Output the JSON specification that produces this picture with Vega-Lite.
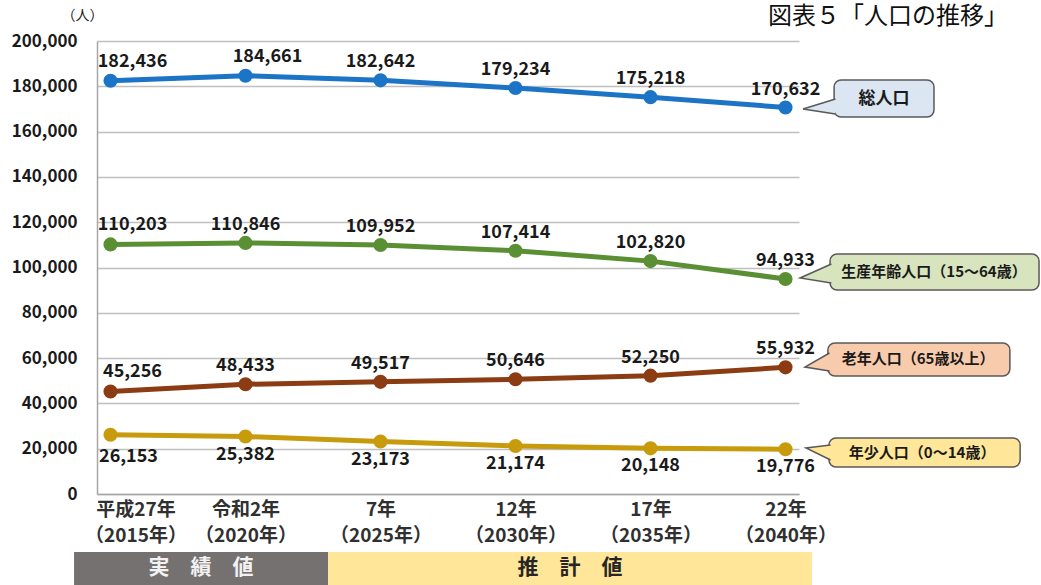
{
  "$schema": "https://vega.github.io/schema/vega-lite/v6.json",
  "width": 702,
  "height": 453,
  "autosize": {"type": "none"},
  "padding": {"left": 97, "top": 41, "right": 242, "bottom": 91},
  "background": "white",
  "title": {"text": "図表５「人口の推移」", "anchor": "start", "frame": "group", "dx": 671, "offset": 0, "dy": 21, "fontSize": 24, "fontWeight": "normal", "font": "Noto Sans CJK JP", "color": "#111"},
  "config": {
    "view": {"stroke": null},
    "font": "Noto Sans CJK JP"
  },
  "datasets": {
    "pop": [
      {"year": 2015, "series": "総人口", "value": 182436},
      {"year": 2020, "series": "総人口", "value": 184661},
      {"year": 2025, "series": "総人口", "value": 182642},
      {"year": 2030, "series": "総人口", "value": 179234},
      {"year": 2035, "series": "総人口", "value": 175218},
      {"year": 2040, "series": "総人口", "value": 170632},
      {"year": 2015, "series": "生産年齢人口", "value": 110203},
      {"year": 2020, "series": "生産年齢人口", "value": 110846},
      {"year": 2025, "series": "生産年齢人口", "value": 109952},
      {"year": 2030, "series": "生産年齢人口", "value": 107414},
      {"year": 2035, "series": "生産年齢人口", "value": 102820},
      {"year": 2040, "series": "生産年齢人口", "value": 94933},
      {"year": 2015, "series": "老年人口", "value": 45256},
      {"year": 2020, "series": "老年人口", "value": 48433},
      {"year": 2025, "series": "老年人口", "value": 49517},
      {"year": 2030, "series": "老年人口", "value": 50646},
      {"year": 2035, "series": "老年人口", "value": 52250},
      {"year": 2040, "series": "老年人口", "value": 55932},
      {"year": 2015, "series": "年少人口", "value": 26153},
      {"year": 2020, "series": "年少人口", "value": 25382},
      {"year": 2025, "series": "年少人口", "value": 23173},
      {"year": 2030, "series": "年少人口", "value": 21174},
      {"year": 2035, "series": "年少人口", "value": 20148},
      {"year": 2040, "series": "年少人口", "value": 19776}
    ],
    "boxes": [
      {"series": "総人口", "label": "総人口", "x0": 2041.80, "x1": 2045.50, "y0": 166446, "y1": 182781, "tx": 2043.65, "ty": 174613},
      {"series": "生産年齢人口", "label": "生産年齢人口（15～64歳）", "x0": 2041.65, "x1": 2049.39, "y0": 90066, "y1": 105960, "tx": 2045.50, "ty": 98013},
      {"series": "老年人口", "label": "老年人口（65歳以上）", "x0": 2041.57, "x1": 2048.31, "y0": 52097, "y1": 66667, "tx": 2044.91, "ty": 59382},
      {"series": "年少人口", "label": "年少人口（0～14歳）", "x0": 2041.61, "x1": 2048.69, "y0": 11921, "y1": 24724, "tx": 2045.06, "ty": 18322}
    ],
    "tails": [
      {"series": "総人口", "k": 1, "x": 2041.85, "y": 174393},
      {"series": "総人口", "k": 2, "x": 2040.65, "y": 169978},
      {"series": "総人口", "k": 3, "x": 2041.85, "y": 167770},
      {"series": "生産年齢人口", "k": 1, "x": 2041.70, "y": 101545},
      {"series": "生産年齢人口", "k": 2, "x": 2040.54, "y": 95364},
      {"series": "生産年齢人口", "k": 3, "x": 2041.70, "y": 93157},
      {"series": "老年人口", "k": 1, "x": 2041.63, "y": 62252},
      {"series": "老年人口", "k": 2, "x": 2040.72, "y": 56071},
      {"series": "老年人口", "k": 3, "x": 2041.63, "y": 54305},
      {"series": "年少人口", "k": 1, "x": 2041.67, "y": 21634},
      {"series": "年少人口", "k": 2, "x": 2040.76, "y": 20309},
      {"series": "年少人口", "k": 3, "x": 2041.67, "y": 15011}
    ],
    "bands": [
      {"band": "実　績　値", "x0": 2013.65, "x1": 2023.06, "mid": 2018.35},
      {"band": "推　計　値", "x0": 2023.06, "x1": 2040.98, "mid": 2032.02}
    ]
  },
  "layer": [
    {
      "data": {"name": "bands"},
      "mark": {"type": "rect"},
      "encoding": {
        "x": {"field": "x0", "type": "quantitative"},
        "x2": {"field": "x1"},
        "y": {"datum": -25607, "type": "quantitative"},
        "y2": {"datum": -41000},
        "fill": {"condition": {"test": "datum.band == '実　績　値'", "value": "#767171"}, "value": "#ffe699"}
      }
    },
    {
      "data": {"name": "bands"},
      "mark": {"type": "text", "fontSize": 21, "fontWeight": "bold", "baseline": "middle", "align": "center"},
      "encoding": {
        "x": {"field": "mid", "type": "quantitative"},
        "y": {"datum": -32671, "type": "quantitative"},
        "text": {"field": "band"},
        "color": {"condition": {"test": "datum.band == '実　績　値'", "value": "#f2f2f2"}, "value": "#262626"}
      }
    },
    {
      "data": {"name": "pop"},
      "mark": {"type": "line", "strokeWidth": 5},
      "encoding": {
        "x": {
          "field": "year", "type": "quantitative",
          "scale": {"domain": [2014.5, 2040.5], "nice": false, "zero": false},
          "axis": {
            "title": null, "values": [2015, 2020, 2025, 2030, 2035, 2040],
            "labelExpr": "[datum.value == 2015 ? '平成27年' : datum.value == 2020 ? '令和2年' : (datum.value - 2018) + '年', '（' + datum.value + '年）']",
            "grid": false, "ticks": false, "domain": true, "domainColor": "#a6a6a6", "domainWidth": 1.5,
            "labelFontSize": 19, "labelFontWeight": "bold", "labelColor": "#303030", "labelPadding": 6, "labelLineHeight": 26,
            "labelOffset": {"condition": {"test": "datum.value == 2015", "value": 25}, "value": 0},
            "labelBaseline": "top", "labelOverlap": false, "labelFlush": false, "labelFont": "Noto Sans CJK JP"
          }
        },
        "y": {
          "field": "value", "type": "quantitative",
          "scale": {"domain": [0, 200000], "nice": false},
          "axis": {
            "title": "（人）", "titleAngle": 0, "titleX": -15, "titleY": -26, "titleAlign": "center", "titleBaseline": "middle",
            "titleFontSize": 14, "titleFontWeight": "normal", "titleColor": "#1a1a1a",
            "values": [0, 20000, 40000, 60000, 80000, 100000, 120000, 140000, 160000, 180000, 200000],
            "format": ",d", "labelFontSize": 17, "labelFontWeight": "bold", "labelColor": "#1a1a1a", "labelPadding": 20,
            "ticks": false, "grid": true, "gridColor": "#bfbfbf", "gridWidth": 1.5, "domain": true, "domainColor": "#a6a6a6", "domainWidth": 1.5
          }
        },
        "color": {
          "field": "series", "type": "nominal",
          "scale": {"domain": ["総人口", "生産年齢人口", "老年人口", "年少人口"], "range": ["#1c74c6", "#5a8f33", "#8c3c12", "#c89b0d"]},
          "legend": null
        }
      }
    },
    {
      "data": {"name": "pop"},
      "mark": {"type": "circle", "size": 200, "opacity": 1},
      "encoding": {
        "x": {"field": "year", "type": "quantitative"},
        "y": {"field": "value", "type": "quantitative"},
        "color": {"field": "series", "type": "nominal", "legend": null}
      }
    },
    {
      "data": {"name": "pop"},
      "transform": [{"filter": "datum.series != '年少人口' && datum.year > 2015 && !(datum.year == 2020 && datum.series == '総人口')"}],
      "mark": {"type": "text", "fontSize": 18, "fontWeight": "bold", "color": "#1a1a1a", "baseline": "middle", "dy": -18},
      "encoding": {
        "x": {"field": "year", "type": "quantitative"},
        "y": {"field": "value", "type": "quantitative"},
        "text": {"field": "value", "type": "quantitative", "format": ",d"}
      }
    },
    {
      "data": {"name": "pop"},
      "transform": [{"filter": "datum.series != '年少人口' && (datum.year == 2015 || (datum.year == 2020 && datum.series == '総人口'))"}],
      "mark": {"type": "text", "fontSize": 18, "fontWeight": "bold", "color": "#1a1a1a", "baseline": "middle", "dy": -19, "dx": 22},
      "encoding": {
        "x": {"field": "year", "type": "quantitative"},
        "y": {"field": "value", "type": "quantitative"},
        "text": {"field": "value", "type": "quantitative", "format": ",d"}
      }
    },
    {
      "data": {"name": "pop"},
      "transform": [{"filter": "datum.series == '年少人口' && datum.year > 2015"}],
      "mark": {"type": "text", "fontSize": 18, "fontWeight": "bold", "color": "#1a1a1a", "baseline": "middle", "dy": 18},
      "encoding": {
        "x": {"field": "year", "type": "quantitative"},
        "y": {"field": "value", "type": "quantitative"},
        "text": {"field": "value", "type": "quantitative", "format": ",d"}
      }
    },
    {
      "data": {"name": "pop"},
      "transform": [{"filter": "datum.series == '年少人口' && datum.year == 2015"}],
      "mark": {"type": "text", "fontSize": 18, "fontWeight": "bold", "color": "#1a1a1a", "baseline": "middle", "dy": 22, "dx": 18},
      "encoding": {
        "x": {"field": "year", "type": "quantitative"},
        "y": {"field": "value", "type": "quantitative"},
        "text": {"field": "value", "type": "quantitative", "format": ",d"}
      }
    },
    {
      "data": {"name": "boxes"},
      "mark": {"type": "rect", "stroke": "#595959", "strokeWidth": 1.5, "cornerRadius": 7},
      "encoding": {
        "x": {"field": "x0", "type": "quantitative"},
        "x2": {"field": "x1"},
        "y": {"field": "y0", "type": "quantitative"},
        "y2": {"field": "y1"},
        "fill": {
          "field": "series", "type": "nominal",
          "scale": {"domain": ["総人口", "生産年齢人口", "老年人口", "年少人口"], "range": ["#dce6f2", "#d7e4bd", "#f8cbad", "#ffe699"]},
          "legend": null
        }
      }
    },
    {
      "data": {"name": "tails"},
      "mark": {"type": "line", "stroke": "#595959", "strokeWidth": 1.5, "strokeJoin": "miter"},
      "encoding": {
        "x": {"field": "x", "type": "quantitative"},
        "y": {"field": "y", "type": "quantitative"},
        "order": {"field": "k", "type": "quantitative"},
        "detail": {"field": "series"},
        "fill": {"field": "series", "type": "nominal", "legend": null}
      }
    },
    {
      "data": {"name": "boxes"},
      "transform": [{"filter": "datum.series == '総人口'"}],
      "mark": {"type": "text", "fontSize": 17, "fontWeight": "bold", "color": "#1a1a1a", "baseline": "middle", "align": "center"},
      "encoding": {
        "x": {"field": "tx", "type": "quantitative"},
        "y": {"field": "ty", "type": "quantitative"},
        "text": {"field": "label"}
      }
    },
    {
      "data": {"name": "boxes"},
      "transform": [{"filter": "datum.series != '総人口'"}],
      "mark": {"type": "text", "fontSize": 15, "fontWeight": "bold", "color": "#1a1a1a", "baseline": "middle", "align": "center"},
      "encoding": {
        "x": {"field": "tx", "type": "quantitative"},
        "y": {"field": "ty", "type": "quantitative"},
        "text": {"field": "label"}
      }
    }
  ]
}
